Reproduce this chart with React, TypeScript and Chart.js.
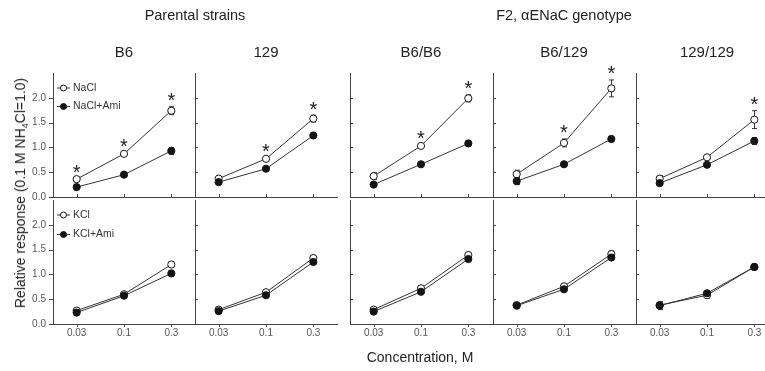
import React, { useEffect, useRef } from 'react';
import { Chart, registerables } from 'chart.js';

Chart.register(...registerables);

// ---------- data ----------
const concLabels = ['0.03', '0.1', '0.3'];
const panelNames = ['B6', '129', 'B6/B6', 'B6/129', '129/129'];
const groupTitles = ['Parental strains', 'F2, \u03b1ENaC genotype'];
const legendTop = ['NaCl', 'NaCl+Ami'];
const legendBottom = ['KCl', 'KCl+Ami'];

// NaCl (open circles)
const naclMean = [
  [0.36, 0.87, 1.74],
  [0.37, 0.77, 1.58],
  [0.42, 1.03, 1.99],
  [0.46, 1.09, 2.19],
  [0.37, 0.8, 1.56],
];
const naclErr = [
  [0.02, 0.02, 0.08],
  [0.02, 0.02, 0.07],
  [0.07, 0.02, 0.07],
  [0.08, 0.08, 0.17],
  [0.06, 0.02, 0.18],
];
// NaCl + amiloride (filled circles)
const naclAmiMean = [
  [0.2, 0.45, 0.93],
  [0.3, 0.57, 1.24],
  [0.25, 0.66, 1.08],
  [0.32, 0.66, 1.17],
  [0.28, 0.65, 1.13],
];
const naclAmiErr = [
  [0.02, 0.02, 0.07],
  [0.02, 0.02, 0.02],
  [0.02, 0.02, 0.02],
  [0.07, 0.02, 0.02],
  [0.02, 0.02, 0.07],
];
const naclSignificant = [
  [true, true, true],
  [false, true, true],
  [false, true, true],
  [false, true, true],
  [false, false, true],
];
// KCl (open circles)
const kclMean = [
  [0.27, 0.6, 1.2],
  [0.29, 0.64, 1.33],
  [0.29, 0.72, 1.39],
  [0.38, 0.76, 1.41],
  [0.38, 0.58, 1.15],
];
const kclErr = [
  [0.02, 0.02, 0.02],
  [0.02, 0.02, 0.03],
  [0.02, 0.02, 0.03],
  [0.02, 0.02, 0.06],
  [0.04, 0.06, 0.02],
];
// KCl + amiloride (filled circles)
const kclAmiMean = [
  [0.23, 0.57, 1.02],
  [0.26, 0.58, 1.25],
  [0.25, 0.65, 1.31],
  [0.37, 0.7, 1.34],
  [0.37, 0.62, 1.15],
];
const kclAmiErr = [
  [0.02, 0.02, 0.06],
  [0.02, 0.02, 0.02],
  [0.02, 0.02, 0.02],
  [0.02, 0.02, 0.02],
  [0.08, 0.05, 0.02],
];
const kclSignificant = [
  [false, false, false],
  [false, false, false],
  [false, false, false],
  [false, false, false],
  [false, false, false],
];

// ---------- layout ----------
const FONT = "'Liberation Sans', Arial, Helvetica, sans-serif";
const AREA_LEFT = [53, 195, 350, 493, 636];
const AREA_W = 142;
const ROW_TOP = [73, 200];
const AREA_H = 124;
const ML = 50;
const MR = 8;
const MT = 25;
const MB = [16, 28];
const AXIS = '#444';
const LINE = '#333';
const MARK = '#141414';
const TICKTXT = '#555';

function decoPlugin(row: number, col: number) {
  const openMean = row === 0 ? naclMean[col] : kclMean[col];
  const openErr = row === 0 ? naclErr[col] : kclErr[col];
  const filledMean = row === 0 ? naclAmiMean[col] : kclAmiMean[col];
  const filledErr = row === 0 ? naclAmiErr[col] : kclAmiErr[col];
  const sig = row === 0 ? naclSignificant[col] : kclSignificant[col];
  const legend = row === 0 ? legendTop : legendBottom;
  return {
    id: 'deco',
    beforeDatasetsDraw(chart: any) {
      const { ctx, chartArea } = chart;
      const xs = chart.scales.x;
      const ys = chart.scales.y;
      ctx.save();
      ctx.strokeStyle = LINE;
      ctx.lineWidth = 1;
      const bar = (i: number, m: number, e: number) => {
        const px = Math.round(xs.getPixelForValue(i)) + 0.5;
        const y1 = ys.getPixelForValue(m + e);
        const y2 = ys.getPixelForValue(m - e);
        ctx.beginPath();
        ctx.moveTo(px, y1);
        ctx.lineTo(px, y2);
        ctx.moveTo(px - 2.5, y1);
        ctx.lineTo(px + 2.5, y1);
        ctx.moveTo(px - 2.5, y2);
        ctx.lineTo(px + 2.5, y2);
        ctx.stroke();
      };
      for (let i = 0; i < 3; i++) {
        bar(i, openMean[i], openErr[i]);
        bar(i, filledMean[i], filledErr[i]);
      }
      // tick marks
      ctx.strokeStyle = AXIS;
      ys.ticks.forEach((t: any) => {
        const py = Math.round(ys.getPixelForValue(t.value)) + 0.5;
        ctx.beginPath();
        if (col === 0) {
          ctx.moveTo(chartArea.left - 4, py);
          ctx.lineTo(chartArea.left, py);
        } else {
          ctx.moveTo(chartArea.left, py);
          ctx.lineTo(chartArea.left + 3, py);
        }
        ctx.stroke();
      });
      for (let i = 0; i < concLabels.length; i++) {
        const px = Math.round(xs.getPixelForValue(i)) + 0.5;
        ctx.beginPath();
        if (row === 0) {
          ctx.moveTo(px, chartArea.bottom);
          ctx.lineTo(px, chartArea.bottom - 3);
        } else {
          ctx.moveTo(px, chartArea.bottom);
          ctx.lineTo(px, chartArea.bottom + 3);
        }
        ctx.stroke();
      }
      ctx.restore();
    },
    afterDatasetsDraw(chart: any) {
      const { ctx, chartArea } = chart;
      const xs = chart.scales.x;
      const ys = chart.scales.y;
      ctx.save();
      ctx.fillStyle = '#222';
      ctx.font = `20px ${FONT}`;
      ctx.textAlign = 'center';
      ctx.textBaseline = 'alphabetic';
      for (let i = 0; i < 3; i++) {
        if (!sig[i]) continue;
        const px = xs.getPixelForValue(i);
        const top = Math.max(openMean[i] + openErr[i], filledMean[i] + filledErr[i]);
        ctx.fillText('*', px, ys.getPixelForValue(top) + 0.5);
      }
      if (col === 0) {
        const rowsY = row === 0 ? [14.5, 33] : [14.5, 34];
        ctx.font = `10.5px ${FONT}`;
        ctx.textAlign = 'left';
        ctx.textBaseline = 'middle';
        for (let k = 0; k < 2; k++) {
          const y = chartArea.top + rowsY[k] + 0.5;
          const x0 = chartArea.left + 4;
          ctx.strokeStyle = LINE;
          ctx.lineWidth = 1;
          ctx.beginPath();
          ctx.moveTo(x0, y);
          ctx.lineTo(x0 + 13, y);
          ctx.stroke();
          ctx.beginPath();
          ctx.arc(x0 + 6.5, y, 3, 0, Math.PI * 2);
          ctx.fillStyle = k === 0 ? '#fff' : MARK;
          ctx.fill();
          ctx.strokeStyle = MARK;
          ctx.stroke();
          ctx.fillStyle = '#333';
          ctx.fillText(legend[k], x0 + 16, y);
        }
      }
      ctx.restore();
    },
  };
}

function makeConfig(row: number, col: number): any {
  const openMean = row === 0 ? naclMean[col] : kclMean[col];
  const filledMean = row === 0 ? naclAmiMean[col] : kclAmiMean[col];
  const legend = row === 0 ? legendTop : legendBottom;
  const common = {
    borderColor: LINE,
    borderWidth: 1,
    pointRadius: 3.6,
    pointBorderColor: MARK,
    pointBorderWidth: 1,
    tension: 0,
    fill: false,
  };
  return {
    type: 'line',
    data: {
      labels: concLabels,
      datasets: [
        { ...common, label: legend[1], data: filledMean, order: 0, pointBackgroundColor: MARK },
        { ...common, label: legend[0], data: openMean, order: 1, pointBackgroundColor: '#fff' },
      ],
    },
    options: {
      responsive: false,
      animation: false,
      events: [],
      layout: { padding: { left: 0, top: MT, right: MR, bottom: 0 } },
      plugins: {
        legend: { display: false },
        tooltip: { enabled: false },
        title: { display: false },
      },
      scales: {
        x: {
          type: 'category',
          offset: true,
          grid: { display: false, drawTicks: false, tickLength: 0 },
          border: { display: true, color: AXIS, width: 1 },
          ticks: {
            display: row === 1,
            color: TICKTXT,
            font: { family: FONT, size: 10 },
            padding: 3,
            maxRotation: 0,
            autoSkip: false,
          },
          afterFit: (s: any) => {
            s.height = MB[row];
          },
        },
        y: {
          type: 'linear',
          min: 0,
          max: 2.5,
          grid: { display: false, drawTicks: false, tickLength: 0 },
          border: { display: true, color: AXIS, width: 1 },
          ticks: {
            display: col === 0,
            stepSize: 0.5,
            color: TICKTXT,
            font: { family: FONT, size: 10 },
            padding: 7,
            callback: (v: any) => Number(v).toFixed(1),
          },
          afterBuildTicks: (s: any) => {
            s.ticks = s.ticks.filter((t: any) => t.value <= 2.0001);
          },
          afterFit: (s: any) => {
            s.width = ML;
          },
        },
      },
    },
    plugins: [decoPlugin(row, col)],
  };
}

export default function App() {
  const refs = useRef<(HTMLCanvasElement | null)[]>([]);

  useEffect(() => {
    const charts: Chart[] = [];
    for (let row = 0; row < 2; row++) {
      for (let col = 0; col < 5; col++) {
        const c = refs.current[row * 5 + col];
        if (c) charts.push(new Chart(c, makeConfig(row, col)));
      }
    }
    return () => charts.forEach((ch) => ch.destroy());
  }, []);

  const canvases: React.ReactNode[] = [];
  for (let row = 0; row < 2; row++) {
    for (let col = 0; col < 5; col++) {
      const w = ML + AREA_W + MR;
      const h = MT + AREA_H + MB[row];
      canvases.push(
        <canvas
          key={`${row}-${col}`}
          ref={(el) => {
            refs.current[row * 5 + col] = el;
          }}
          width={w}
          height={h}
          style={{
            position: 'absolute',
            left: AREA_LEFT[col] - ML,
            top: ROW_TOP[row] - MT,
            width: w,
            height: h,
          }}
        />
      );
    }
  }

  const panelCenter = (col: number) => AREA_LEFT[col] + AREA_W / 2;
  const textBase: React.CSSProperties = {
    position: 'absolute',
    whiteSpace: 'nowrap',
    fontFamily: FONT,
    color: '#222',
  };

  return (
    <div
      style={{
        position: 'fixed',
        left: 0,
        top: 0,
        width: 765,
        height: 371,
        overflow: 'hidden',
        background: '#fff',
      }}
    >
      {canvases}
      <div style={{ ...textBase, left: (AREA_LEFT[0] + AREA_LEFT[1] + AREA_W) / 2, top: 8, fontSize: 14.5, lineHeight: '14.5px', transform: 'translateX(-50%)' }}>
        {groupTitles[0]}
      </div>
      <div style={{ ...textBase, left: (AREA_LEFT[2] + AREA_LEFT[4] + AREA_W) / 2, top: 8, fontSize: 14.5, lineHeight: '14.5px', transform: 'translateX(-50%)' }}>
        {groupTitles[1]}
      </div>
      {panelNames.map((n, i) => (
        <div
          key={n}
          style={{ ...textBase, left: panelCenter(i), top: 43.5, fontSize: 15, lineHeight: '15px', transform: 'translateX(-50%)' }}
        >
          {n}
        </div>
      ))}
      <div style={{ ...textBase, left: 420, top: 350, fontSize: 14, lineHeight: '14px', transform: 'translateX(-50%)' }}>
        Concentration, M
      </div>
      <div
        style={{
          ...textBase,
          left: 20,
          top: 193,
          height: 14,
          fontSize: 14,
          lineHeight: '14px',
          transform: 'translate(-50%, -50%) rotate(-90deg)',
        }}
      >
        Relative response (0.1 M NH
        <span style={{ fontSize: 9, position: 'relative', top: 3 }}>4</span>
        Cl=1.0)
      </div>
    </div>
  );
}
